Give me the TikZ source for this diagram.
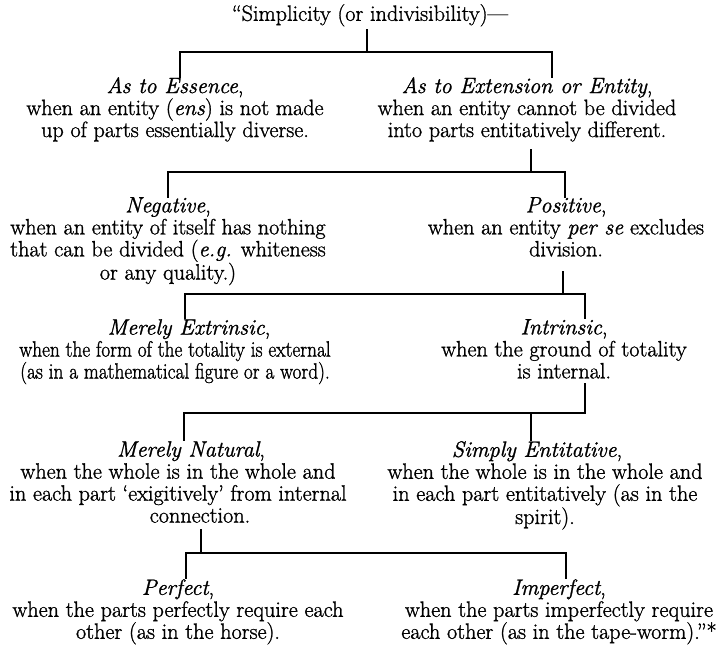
\documentclass[tikz,border=0pt]{standalone}
\usepackage{fontspec}
\setmainfont{Latin Modern Roman}[UprightFeatures={FakeBold=1.2},ItalicFeatures={FakeBold=1.2}]
\newcommand{\condline}[1]{{\addfontfeature{FakeStretch=0.87}#1}}
\begin{document}
\begin{tikzpicture}[x=1pt,y=-1pt,
  txt/.style={align=center,anchor=north,inner sep=0pt,font=\fontsize{22.2}{22}\selectfont},
  conn/.style={line width=1.8pt,line cap=rect,line join=miter}]
\useasboundingbox (0,0) rectangle (726,654);
% text blocks
\node[txt] (t) at (370,4) {“Simplicity (or indivisibility)—};
\node[txt] (ess) at (175,77) {\textit{As to Essence},\\when an entity (\textit{ens}) is not made\\up of parts essentially diverse.};
\node[txt] (ext) at (527,77) {\textit{As to Extension or Entity},\\when an entity cannot be divided\\into parts entitatively different.};
\node[txt] (neg) at (168,197) {\textit{Negative},\\when an entity of itself has nothing\\that can be divided (\textit{e.g.} whiteness\\or any quality.)};
\node[txt] (pos) at (566,197) {\textit{Positive},\\when an entity \textit{per se} excludes\\division.};
\node[txt] (mext) at (175,319) {\hspace*{28pt}\textit{Merely Extrinsic},\\\condline{when the form of the totality is external}\\\condline{(as in a mathematical figure or a word).}};
\node[txt] (intr) at (564,319) {\textit{Intrinsic},\\when the ground of totality\\is internal.};
\node[txt] (nat) at (178,441) {\hspace*{26pt}\textit{Merely Natural},\\when the whole is in the whole and\\in each part ‘exigitively’ from internal\\\hspace*{44pt}connection.};
\node[txt] (sent) at (545,441) {\hspace*{-16pt}\textit{Simply Entitative},\\when the whole is in the whole and\\in each part entitatively (as in the\\spirit).};
\node[txt] (perf) at (178,579) {\textit{Perfect},\\when the parts perfectly require each\\other (as in the horse).};
\node[txt] (imp) at (559,579) {\textit{Imperfect},\\when the parts imperfectly require\\each other (as in the tape-worm).”*};
% junction coordinates
\coordinate (t-stem) at (367,30);   \coordinate (j1) at (367,52);
\coordinate (ess-top) at (180,77);  \coordinate (ext-top) at (552,77);
\coordinate (ext-stem) at (531,150); \coordinate (j2) at (531,172);
\coordinate (neg-top) at (168,197); \coordinate (pos-top) at (565,197);
\coordinate (pos-stem) at (563,272); \coordinate (j3) at (563,294);
\coordinate (mext-top) at (185,318); \coordinate (intr-top) at (585,318);
\coordinate (intr-stem) at (585,384); \coordinate (j4) at (585,413);
\coordinate (nat-top) at (184,440); \coordinate (sent-top) at (531,440);
\coordinate (nat-stem) at (201,530); \coordinate (j5) at (201,553);
\coordinate (perf-top) at (186,578); \coordinate (imp-top) at (566,578);
% connectors
\draw[conn] (t-stem) -- (j1);
\draw[conn] (ess-top) |- (j1) -| (ext-top);
\draw[conn] (ext-stem) -- (j2);
\draw[conn] (neg-top) |- (j2) -| (pos-top);
\draw[conn] (pos-stem) -- (j3);
\draw[conn] (mext-top) |- (j3) -| (intr-top);
\draw[conn] (intr-stem) -- (j4);
\draw[conn] (nat-top) |- (j4);
\draw[conn] (sent-top) -- (sent-top |- j4);
\draw[conn] (nat-stem) -- (j5);
\draw[conn] (perf-top) |- (j5) -| (imp-top);
\end{tikzpicture}
\end{document}
